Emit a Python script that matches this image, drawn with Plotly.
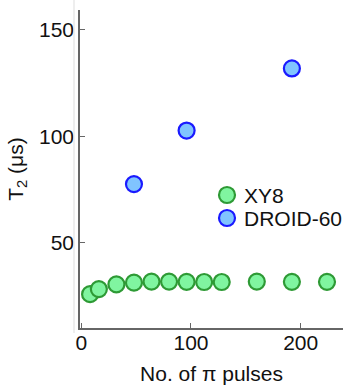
import plotly.graph_objects as go

xy8_pulses = [8, 16, 32, 48, 64, 80, 96, 112, 128, 160, 192, 224]
xy8_t2 = [26.0, 28.4, 30.6, 31.4, 31.9, 31.9, 31.8, 31.7, 31.7, 31.9, 31.8, 31.8]
droid_pulses = [48, 96, 192]
droid_t2 = [77.6, 102.7, 131.8]
series_names = ["XY8", "DROID-60"]
fills = ["#80f5a0", "#80c4ff"]
edges = ["#2e9a35", "#1a1aff"]

FONT = "Liberation Sans, Arial, sans-serif"
FS = 21
fig = go.Figure()
for xs, ys, name, fc, ec in [(xy8_pulses, xy8_t2, series_names[0], fills[0], edges[0]),
                             (droid_pulses, droid_t2, series_names[1], fills[1], edges[1])]:
    fig.add_trace(go.Scatter(x=xs, y=ys, mode="markers", name=name, showlegend=False,
                             marker=dict(size=16, color=fc, line=dict(color=ec, width=2.2))))

# manual legend (plot area: 263 x 318 px, origin at px (80, 328))
W, H, X0, Y0 = 263.0, 318.0, 80.0, 328.0
def px(x):
    return (x - X0) / W
def py(y):
    return (Y0 - y) / H

shapes = [dict(type="line", xref="paper", yref="paper", x0=px(74), x1=px(74),
               y0=py(333), y1=py(0), line=dict(color="#dddddd", width=1))]
annotations = []
for i, (name, fc, ec) in enumerate(zip(series_names, fills, edges)):
    cy = 195 + 23 * i
    cx = 227
    shapes.append(dict(type="circle", xref="paper", yref="paper",
                       x0=px(cx - 8), x1=px(cx + 8), y0=py(cy + 8), y1=py(cy - 8),
                       fillcolor=fc, line=dict(color=ec, width=2.2)))
    annotations.append(dict(text=name, xref="paper", yref="paper", x=px(242), y=py(cy),
                            xanchor="left", yanchor="middle", showarrow=False,
                            font=dict(size=FS, family=FONT, color="#111111")))

axis_common = dict(showgrid=False, zeroline=False, showline=True, linecolor="#666666",
                   linewidth=1.6, ticks="inside", ticklen=5, tickcolor="#666666",
                   tickfont=dict(size=FS, color="#111111", family=FONT))
fig.update_layout(
    width=343, height=385, margin=dict(l=80, r=0, t=10, b=57),
    paper_bgcolor="white", plot_bgcolor="white",
    font=dict(family=FONT, size=FS, color="#111111"),
    xaxis=dict(range=[-1.2, 238.6], tickvals=[0, 100, 200], ticklabelstandoff=-5,
               title=dict(text="No. of π pulses", standoff=14, font=dict(size=FS)), **axis_common),
    yaxis=dict(range=[10.15, 159.2], tickvals=[50, 100, 150],
               title=dict(text="T<sub>2</sub> (μs)", standoff=10, font=dict(size=FS)), **axis_common),
    showlegend=False,
    shapes=shapes,
    annotations=annotations,
)
fig.write_html("out.html")
